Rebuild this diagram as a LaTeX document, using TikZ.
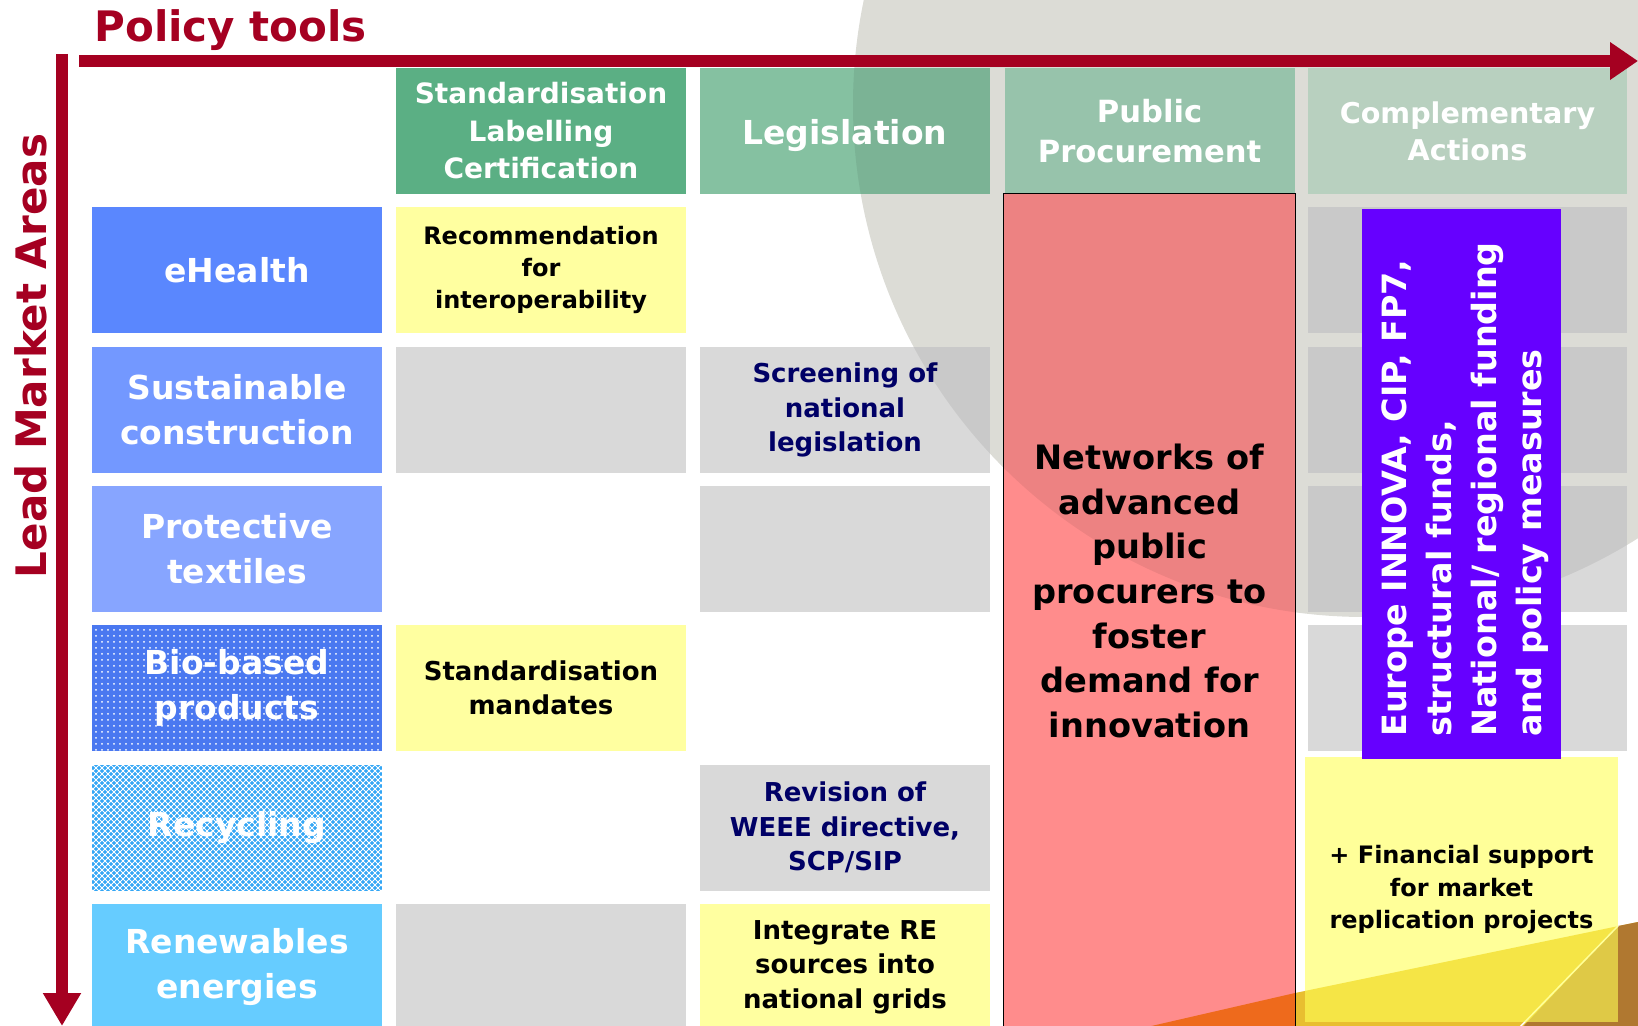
\documentclass[tikz,border=0pt]{standalone}
\usepackage{fontspec}
\setmainfont{DejaVu Sans}
\usetikzlibrary{positioning, arrows.meta, patterns}
\definecolor{axisred}{HTML}{A50021}
\definecolor{stdgreen}{HTML}{5BAF84}
\definecolor{leggreen}{HTML}{85C1A1}
\definecolor{pubgreen}{HTML}{A3D2B8}
\definecolor{compgreen}{HTML}{C7E0CE}
\definecolor{healthblue}{HTML}{5A87FE}
\definecolor{sustblue}{HTML}{7398FF}
\definecolor{protblue}{HTML}{87A5FF}
\definecolor{bioblue}{HTML}{4A78F0}
\definecolor{recycblue}{HTML}{33A6F5}
\definecolor{renewblue}{HTML}{66CCFF}
\definecolor{noteyellow}{HTML}{FFFFA0}
\definecolor{finyellow}{HTML}{FFFF55}
\definecolor{cellgray}{HTML}{D9D9D9}
\definecolor{textnavy}{HTML}{000066}
\definecolor{procred}{HTML}{FF8C8C}
\definecolor{fundviolet}{HTML}{6600FF}
\definecolor{discgray}{HTML}{EDEDE7}
\definecolor{decoorange}{HTML}{EE6A1C}
\definecolor{decogold}{HTML}{E8BE30}
\definecolor{decobrown}{HTML}{B07830}
\newcommand{\fsz}[2]{\fontsize{#1}{#2}\selectfont\bfseries}
\tikzset{
every node/.style={inner sep=0pt},
hdr/.style={minimum width=145pt, minimum height=63pt, align=center, text=white},
wide/.style={minimum width=159.5pt},
area/.style={minimum width=145pt, minimum height=63pt, align=center, text=white, font=\fsz{16.5}{22.5}},
tool/.style={minimum width=145pt, minimum height=63pt, align=center, font=\fsz{13}{17.25}},
emptycell/.style={tool, fill=cellgray},
yellowcell/.style={tool, fill=noteyellow},
graycell/.style={tool, fill=cellgray, text=textnavy},
procbox/.style={fill=procred, minimum width=145.5pt, minimum height=418pt},
procline/.style={draw=black, line width=0.75pt},
bigtext/.style={align=center, font=\fsz{16.8}{22.35}},
fundbox/.style={fill=fundviolet, minimum width=99.5pt, minimum height=275pt},
fundtext/.style={rotate=90, anchor=west, align=left, text=white, font=\fsz{16.7}{22.5}},
finbox/.style={fill=finyellow, fill opacity=0.6, text opacity=1, minimum width=156.5pt, minimum height=132.5pt, align=center, font=\fsz{12}{16.25}},
axis/.style={draw=axisred, line width=6pt},
title/.style={text=axisred, font=\fsz{21}{25}},
}

\begin{document}
\begin{tikzpicture}[x=0.5pt, y=-0.5pt]
    \useasboundingbox (0,0) rectangle (1638,1026);

    %background disc
    \begin{scope}
    \clip (0,0) rectangle (1638,1026);
    \fill[discgray] (1365,105) circle (256pt);
    \end{scope}

    %policy tool heads (texts of the last three come after the shade)
    \node[hdr, fill=stdgreen, font=\fsz{14}{18.75}] (hstd) at (541,131) {Standardisation\\Labelling\\Certification};
    \node[hdr, fill=leggreen] (hleg) at (845,131) {};
    \node[hdr, fill=pubgreen] (hpub) at (1149.5,131) {};
    \node[hdr, wide, fill=compgreen] (hcomp) at (1467.5,131) {};

    %lead market areas
    \node[area, fill=healthblue] (ehealth) at (237,270) {eHealth};
    \node[area, fill=sustblue] (sustain) at (237,410) {Sustainable\\construction};
    \node[area, fill=protblue] (protect) at (237,549) {Protective\\textiles};
    \node[area, fill=bioblue, postaction={pattern=dots, pattern color=white}] (biobased) at (237,688) {Bio-based\\products};
    \node[area, fill=recycblue, postaction={pattern=north east lines, pattern color=white}, postaction={pattern=north west lines, pattern color=white}] (recycl) at (237,827.5) {Recycling};
    \node[area, fill=renewblue] (renew) at (237,967) {Renewables\\energies};

    %standardisation column
    \node[yellowcell, font=\fsz{12}{16}] (interop) at (541,270) {Recommendation\\for\\interoperability};
    \node[emptycell] (stdsust) at (541,410) {};
    \node[yellowcell] (mandates) at (541,688) {Standardisation\\mandates};
    \node[emptycell] (stdrenew) at (541,967) {};

    %legislation column
    \node[graycell] (screening) at (845,410) {Screening of\\national\\legislation};
    \node[emptycell] (legprot) at (845,549) {};
    \node[graycell] (weee) at (845,827.5) {Revision of\\WEEE directive,\\SCP/SIP};
    \node[yellowcell] (grids) at (845,967) {Integrate RE\\sources into\\national grids};

    %complementary column
    \node[emptycell, wide] (comphealth) at (1467.5,270) {};
    \node[emptycell, wide] (compsust) at (1467.5,410) {};
    \node[emptycell, wide] (compprot) at (1467.5,549) {};
    \node[emptycell, wide] (compbio) at (1467.5,688) {};

    %procurement column
    \node[procbox] (procure) at (1149.5,612) {};
    \node[bigtext] (networks) at (1149.5,591) {Networks of\\advanced\\public\\procurers to\\foster\\demand for\\innovation};

    %shade of the disc
    \begin{scope}
    \clip (0,0) rectangle (1638,1026);
    \fill[black, fill opacity=0.07] (1365,105) circle (256pt);
    \end{scope}

    %head texts
    \node[text=white, font=\fsz{16.5}{22}] (hlegtext) at (845,136) {Legislation};
    \node[text=white, align=center, font=\fsz{15.3}{20}] (hpubtext) at (hpub) {Public\\Procurement};
    \node[text=white, align=center, font=\fsz{14.3}{18.5}] (hcomptext) at (hcomp) {Complementary\\Actions};

    %corner decoration
    \fill[decoorange] (1134,1030) -- (1295,993) -- (1295,1030) -- cycle;
    \fill[decogold] (1295,993) -- (1638,922) -- (1638,1030) -- (1295,1030) -- cycle;
    \fill[decobrown] (1520,1030) -- (1618,926) -- (1638,922) -- (1638,1030) -- cycle;
    \draw[white, line width=0.75pt] (1517,1030) -- (1618,926);
    \draw[procline] (procure.north west) rectangle (procure.south east);

    %financial support
    \node[finbox] (finance) at (1461.5,889.5) {+ Financial support\\for market\\replication projects};

    %funding bar
    \node[fundbox] (fundbar) at (1461.5,484) {};
    \node[fundtext] (fundlabel) at (1465,737) {Europe INNOVA, CIP, FP7,\\structural funds,\\National/ regional funding\\and policy measures};

    %axes and titles
    \coordinate (hstart) at (79,61);
    \coordinate (hend) at (1638,61);
    \coordinate (vstart) at (62,54);
    \coordinate (vend) at (62,1026);
    \draw[axis, -{Triangle[width=18pt, length=14pt]}] (hstart) -- (hend);
    \draw[axis, -{Triangle[width=18pt, length=16.5pt]}] (vstart) -- (vend);
    \node[title, anchor=base west] (tooltitle) at (94,42) {Policy tools};
    \node[title, rotate=90] (areatitle) at (31,356) {Lead Market Areas};

\end{tikzpicture}
\end{document}
